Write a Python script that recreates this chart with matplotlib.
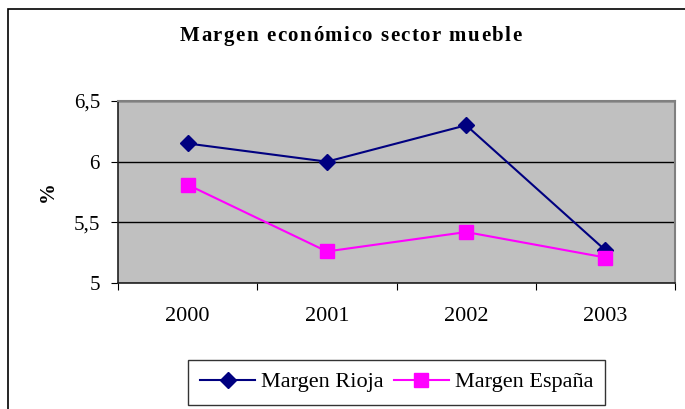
import matplotlib.pyplot as plt
from matplotlib.patches import Rectangle
from matplotlib.ticker import FixedLocator, FuncFormatter

# Chart data
years = ["2000", "2001", "2002", "2003"]
margen_rioja = [6.15, 6.00, 6.30, 5.27]
margen_espana = [5.81, 5.26, 5.42, 5.21]
y_ticks = [5, 5.5, 6, 6.5]
title = 'Margen económico sector mueble'

plt.rcParams['font.family'] = ['Liberation Serif', 'DejaVu Serif']

W, H = 685, 409
fig = plt.figure(figsize=(W / 100, H / 100), dpi=100)
fig.patch.set_facecolor('white')


def spaced_text(fig, s, xc_px, base_px, spacing_px, **kw):
    """Draw s centred at xc_px with extra space between letters (pixels)."""
    renderer = fig.canvas.get_renderer()

    def width(txt):
        t = fig.text(0, 0, txt, **kw)
        w = t.get_window_extent(renderer).width
        t.remove()
        return w

    lefts = []
    for i, ch in enumerate(s):
        if ch == ' ':
            lefts.append(None)
            continue
        lefts.append(width(s[:i + 1]) - width(ch))
    total = width(s) + spacing_px * (len(s) - 1)
    x0 = xc_px - total / 2
    for i, ch in enumerate(s):
        if lefts[i] is None:
            continue
        fig.text((x0 + lefts[i] + spacing_px * i) / W, 1 - base_px / H, ch,
                 ha='left', va='baseline', **kw)


# outer chart border (only left and top visible in the picture)
fig.patches.append(Rectangle((8 / W, -0.5), 2.0, 1.5 - 9 / H,
                             transform=fig.transFigure, fill=False,
                             edgecolor='black', linewidth=1.2))

ax = fig.add_axes([118 / W, 1 - 283 / H, (675 - 118) / W, (283 - 101) / H])
ax.set_facecolor('#C0C0C0')

x = list(range(len(years)))
ax.plot(x, margen_rioja, color='#000080', marker='D', markersize=8,
        linewidth=1.5, label='Margen Rioja')
ax.plot(x, margen_espana, color='#FF00FF', marker='s', markersize=10,
        linewidth=1.5, label='Margen España')

ax.set_xlim(-0.5, len(years) - 0.5)
ax.set_ylim(5, 6.5)
ax.set_yticks(y_ticks)
ax.yaxis.set_major_formatter(FuncFormatter(lambda v, p: f"{v:g}".replace('.', ',')))
ax.grid(axis='y', color='black', linewidth=1)
ax.set_axisbelow(True)

# category ticks sit between the categories
ax.xaxis.set_major_locator(FixedLocator([i - 0.5 for i in range(len(years) + 1)]))
ax.xaxis.set_major_formatter(FuncFormatter(lambda v, p: ''))
ax.xaxis.set_minor_locator(FixedLocator(x))
ax.set_xticklabels(years, minor=True)
ax.tick_params(axis='x', which='minor', length=0, labelsize=16, pad=17)
ax.tick_params(axis='x', which='major', length=5, direction='out', color='black')
ax.tick_params(axis='y', length=5, direction='out', labelsize=15, pad=8)

for side in ['top', 'right']:
    ax.spines[side].set_color('#808080')
    ax.spines[side].set_linewidth(1.5)
for side in ['left', 'bottom']:
    ax.spines[side].set_color('#202020')
    ax.spines[side].set_linewidth(1.2)

ax.set_ylabel('%', fontsize=15, fontweight='bold')
ax.yaxis.set_label_coords((58 - 118) / 557, 0.5)

spaced_text(fig, title, 350.5, 41, 1.5, fontsize=15, fontweight='bold')

leg = fig.legend(loc='center', bbox_to_anchor=(396.5 / W, 1 - 382 / H),
                 ncol=2, frameon=True, fancybox=False, fontsize=16,
                 handlelength=2.5, columnspacing=0.45, handletextpad=0.25,
                 borderpad=0.55)
leg.get_frame().set_edgecolor('black')
leg.get_frame().set_linewidth(1.0)

fig.savefig('out.png', dpi=100)
